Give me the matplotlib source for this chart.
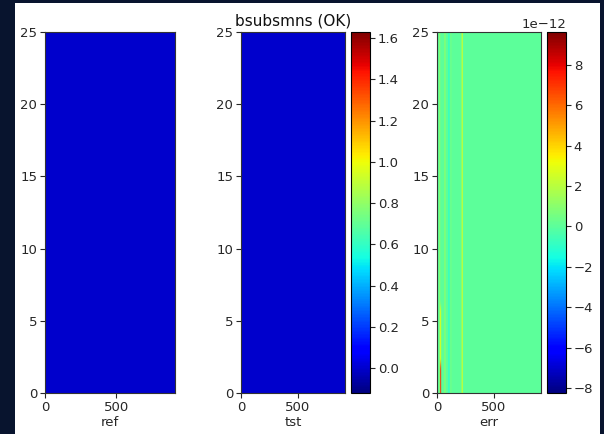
import numpy as np
import matplotlib
matplotlib.use("Agg")
import matplotlib.pyplot as plt
from matplotlib.patches import Rectangle

# Grid of the compared fields
n_rows = 25
n_cols = 912

# Reference and tested fields (uniform level) and their colour scale
ref_level = 0.0
tst_level = 0.0
field_vmin, field_vmax = -0.12, 1.63

# Difference field: background level plus column stripes
# (col_start, col_stop, row_start, row_stop, value)
err_level = 0.0
err_stripes = [
    (20, 28, 0, 25, 1.2e-12),
    (28, 36, 0, 2, 7.5e-12),
    (28, 36, 2, 6, 3.0e-12),
    (66, 74, 0, 25, 1.4e-12),
    (100, 110, 0, 25, -1.2e-12),
    (110, 130, 0, 25, 0.3e-12),
    (216, 226, 0, 25, 2.6e-12),
]
err_vmin, err_vmax = -8.25e-12, 9.63e-12

field_ticks = [0.0, 0.2, 0.4, 0.6, 0.8, 1.0, 1.2, 1.4, 1.6]
err_ticks = [-8e-12, -6e-12, -4e-12, -2e-12, 0, 2e-12, 4e-12, 6e-12, 8e-12]
panel_labels = ["ref", "tst", "err"]
title = "bsubsmns (OK)"

ref = np.full((n_rows, n_cols), ref_level)
tst = np.full((n_rows, n_cols), tst_level)
err = np.full((n_rows, n_cols), err_level)
for c0, c1, r0, r1, v in err_stripes:
    err[r0:r1, c0:c1] = v

W, H = 604, 434
fig = plt.figure(figsize=(W / 100, H / 100), dpi=100, facecolor="#08142e")
fig.patches.append(Rectangle((15 / W, 0), (600 - 15) / W, (H - 3) / H,
                             transform=fig.transFigure, facecolor="white",
                             edgecolor="none", zorder=-10))

plt.rcParams["font.size"] = 9.5
text_col = "#262626"


def box(x0, x1, y0=32, y1=393):
    return [x0 / W, (H - y1) / H, (x1 - x0) / W, (y1 - y0) / H]


ax1 = fig.add_axes(box(45, 175))
ax2 = fig.add_axes(box(241, 345))
cax2 = fig.add_axes(box(351, 370))
ax3 = fig.add_axes(box(437, 541))
cax3 = fig.add_axes(box(547, 566))

extent = (0, n_cols, 0, n_rows)
common = dict(origin="lower", aspect="auto", cmap="jet", extent=extent)
ax1.imshow(ref, vmin=field_vmin, vmax=field_vmax, **common)
im2 = ax2.imshow(tst, vmin=field_vmin, vmax=field_vmax, **common)
im3 = ax3.imshow(err, vmin=err_vmin, vmax=err_vmax, **common)

for ax, lab in zip((ax1, ax2, ax3), panel_labels):
    ax.set_xlabel(lab, fontsize=9.5, labelpad=2, color=text_col)
    ax.set_xticks([0, 500])
    ax.set_yticks([0, 5, 10, 15, 20, 25])
    ax.tick_params(labelsize=9.5, colors=text_col, length=3.5, pad=2)
    for s in ax.spines.values():
        s.set_color("#333333")

ax2.set_title(title, fontsize=11, pad=5, color="#111111")

cb2 = fig.colorbar(im2, cax=cax2, ticks=field_ticks)
cb2.ax.tick_params(labelsize=9.5, colors=text_col, length=3.5, pad=2)
cb3 = fig.colorbar(im3, cax=cax3, ticks=err_ticks)
cb3.ax.tick_params(labelsize=9.5, colors=text_col, length=3.5, pad=2)
cb3.ax.yaxis.get_offset_text().set_fontsize(9.5)
cb3.ax.yaxis.get_offset_text().set_color(text_col)

fig.savefig("out.png", dpi=100, facecolor=fig.get_facecolor())
